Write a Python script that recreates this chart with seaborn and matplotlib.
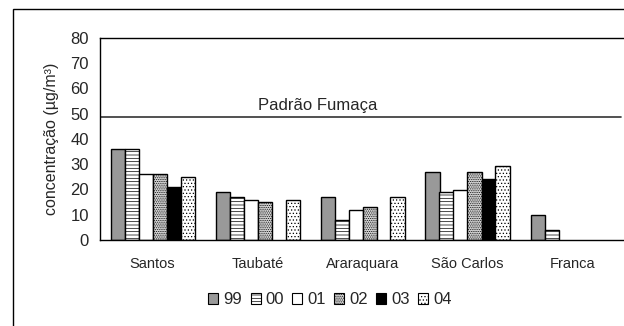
import numpy as np
import pandas as pd
import seaborn as sns
import matplotlib.pyplot as plt
from matplotlib.patches import Rectangle, Patch

# dados (NaN = sem barra)
cidades = ['Santos', 'Taubaté', 'Araraquara', 'São Carlos', 'Franca']
anos = ['99', '00', '01', '02', '03', '04']
v99 = [36, 19, 17.2, 27, 10]
v00 = [36, 17.2, 7.8, 19, 4]
v01 = [26, 16, 12, 20, np.nan]
v02 = [26, 15, 13.2, 27, np.nan]
v03 = [21, np.nan, np.nan, 24, np.nan]
v04 = [25, 16, 17.2, 29.3, np.nan]
padrao = 48.7

serie = dict(zip(anos, [v99, v00, v01, v02, v03, v04]))
df = pd.DataFrame([(c, a, serie[a][i]) for a in anos for i, c in enumerate(cidades)],
                  columns=['Cidade', 'Ano', 'Conc'])

# estilo de cada série
cores = {'99': '#999999', '00': 'white', '01': 'white', '02': '#d8d8d8', '03': 'black', '04': 'white'}
hachuras = {'99': '', '00': '-----', '01': '', '02': '.........', '03': '', '04': '.....'}

sns.set_style('white')
plt.rcParams['font.family'] = ['Liberation Sans', 'DejaVu Sans']
plt.rcParams['hatch.linewidth'] = 0.5

fig = plt.figure(figsize=(6.24, 3.26), dpi=100)
ax = fig.add_axes([100 / 624, 1 - 240 / 326, 525 / 624, 202 / 326])

sns.barplot(data=df, x='Cidade', y='Conc', hue='Ano', hue_order=anos, order=cidades,
            dodge=True, width=0.8, legend=False, ax=ax, errorbar=None)

for ano, cont in zip(anos, ax.containers):
    for p in cont.patches:
        p.set_facecolor(cores[ano])
        p.set_edgecolor('black')
        p.set_linewidth(1)
        p.set_hatch(hachuras[ano])

ax.set_ylim(0, 80)
ax.set_xlim(-0.5, 4.5)
ax.set_yticks(range(0, 81, 10))
ax.tick_params(axis='y', direction='out', length=5, width=1, color='black', labelsize=12, pad=3)

# ticks nas divisões entre categorias, rótulos no centro
ax.set_xticks(np.arange(-0.5, 5, 1))
ax.set_xticklabels([])
ax.set_xticks(range(5), minor=True)
ax.set_xticklabels(cidades, minor=True)
ax.tick_params(axis='x', which='major', direction='out', length=5, width=1, color='black')
ax.tick_params(axis='x', which='minor', length=0, labelsize=10.5, pad=12)

ax.set_xlabel('')
ax.set_ylabel('concentração (µg/m³)', fontsize=11.5, labelpad=8)

for s in ['right']:
    ax.spines[s].set_visible(False)
for s in ['left', 'bottom', 'top']:
    ax.spines[s].set_color('black')
    ax.spines[s].set_linewidth(1)

ax.axhline(padrao, xmin=0, xmax=0.992, color='#333333', lw=1.2)
ax.text(1.57, padrao + 1.5, 'Padrão Fumaça', ha='center', va='bottom', fontsize=12)

handles = [Patch(facecolor=cores[a], edgecolor='black', hatch=hachuras[a], lw=0.8) for a in anos]
fig.legend(handles, anos, loc='center', bbox_to_anchor=(330 / 624, 1 - 300 / 326), ncol=6,
           frameon=False, fontsize=12, handlelength=0.6, handleheight=0.6,
           handletextpad=0.3, columnspacing=0.5)

# moldura externa do gráfico
fig.patches.append(Rectangle((13 / 624, -0.1), 1.2, 1 - 9 / 326 + 0.1, transform=fig.transFigure,
                             fill=False, edgecolor='black', lw=1))

fig.savefig('out.png', dpi=100)
